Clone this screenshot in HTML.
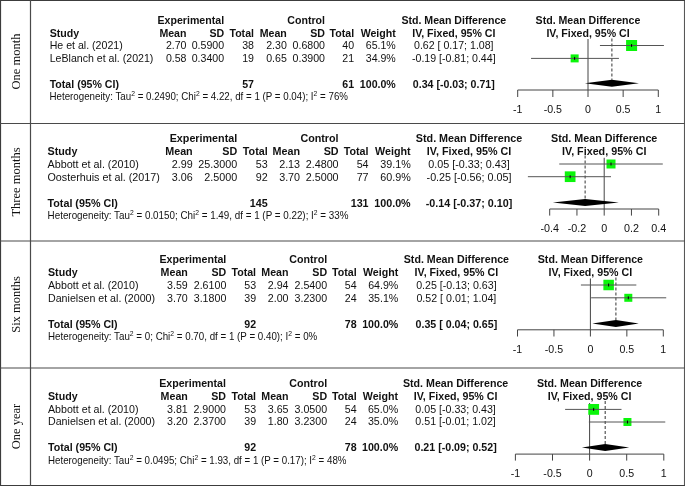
<!DOCTYPE html>
<html><head><meta charset="utf-8"><style>
html,body{margin:0;padding:0;background:#fff;width:685px;height:486px;overflow:hidden}
svg{display:block;will-change:transform}
text{font-family:"Liberation Sans",sans-serif;fill:#111}
text.lab{font-family:"Liberation Serif",serif;font-size:12.5px;fill:#111}
.ax{stroke:#444;stroke-width:1}
.ci{stroke:#555;stroke-width:1}
.pt{stroke:#000;stroke-width:1}
.dash{stroke:#333;stroke-width:1;stroke-dasharray:3 2}
</style></head><body>
<svg width="685" height="486" viewBox="0 0 685 486">
<rect width="685" height="486" fill="#fff"/>
<g style="font-size:10.6px">
<text class="lab" transform="translate(20.4 61.5) rotate(-90)" text-anchor="middle">One month</text>
<text x="224.10" y="24.00" text-anchor="end" font-weight="bold">Experimental</text>
<text x="325.00" y="24.00" text-anchor="end" font-weight="bold">Control</text>
<text x="453.80" y="24.00" text-anchor="middle" font-weight="bold">Std. Mean Difference</text>
<text x="588.00" y="24.00" text-anchor="middle" font-weight="bold">Std. Mean Difference</text>
<text x="49.70" y="36.50" font-weight="bold">Study</text>
<text x="186.50" y="36.50" text-anchor="end" font-weight="bold">Mean</text>
<text x="224.10" y="36.50" text-anchor="end" font-weight="bold">SD</text>
<text x="254.00" y="36.50" text-anchor="end" font-weight="bold">Total</text>
<text x="286.80" y="36.50" text-anchor="end" font-weight="bold">Mean</text>
<text x="325.00" y="36.50" text-anchor="end" font-weight="bold">SD</text>
<text x="354.10" y="36.50" text-anchor="end" font-weight="bold">Total</text>
<text x="395.80" y="36.50" text-anchor="end" font-weight="bold">Weight</text>
<text x="453.80" y="36.50" text-anchor="middle" font-weight="bold">IV, Fixed, 95% CI</text>
<text x="588.00" y="36.50" text-anchor="middle" font-weight="bold">IV, Fixed, 95% CI</text>
<text x="49.70" y="49.00">He et al. (2021)</text>
<text x="186.50" y="49.00" text-anchor="end">2.70</text>
<text x="224.10" y="49.00" text-anchor="end">0.5900</text>
<text x="254.00" y="49.00" text-anchor="end">38</text>
<text x="286.80" y="49.00" text-anchor="end">2.30</text>
<text x="325.00" y="49.00" text-anchor="end">0.6800</text>
<text x="354.10" y="49.00" text-anchor="end">40</text>
<text x="395.80" y="49.00" text-anchor="end">65.1%</text>
<text x="453.80" y="49.00" text-anchor="middle">0.62&#160;[&#160;0.17;&#160;1.08]</text>
<text x="49.70" y="61.90">LeBlanch et al. (2021)</text>
<text x="186.50" y="61.90" text-anchor="end">0.58</text>
<text x="224.10" y="61.90" text-anchor="end">0.3400</text>
<text x="254.00" y="61.90" text-anchor="end">19</text>
<text x="286.80" y="61.90" text-anchor="end">0.65</text>
<text x="325.00" y="61.90" text-anchor="end">0.3900</text>
<text x="354.10" y="61.90" text-anchor="end">21</text>
<text x="395.80" y="61.90" text-anchor="end">34.9%</text>
<text x="453.80" y="61.90" text-anchor="middle">-0.19&#160;[-0.81;&#160;0.44]</text>
<text x="49.70" y="87.90" font-weight="bold">Total (95% CI)</text>
<text x="254.00" y="87.90" text-anchor="end" font-weight="bold">57</text>
<text x="354.10" y="87.90" text-anchor="end" font-weight="bold">61</text>
<text x="395.80" y="87.90" text-anchor="end" font-weight="bold">100.0%</text>
<text x="453.80" y="87.90" text-anchor="middle" font-weight="bold">0.34&#160;[-0.03;&#160;0.71]</text>
<text class="het" style="font-size:10.1px" x="49.5" y="100.2" textLength="298.5" lengthAdjust="spacingAndGlyphs">Heterogeneity: Tau<tspan dy="-4.2" font-size="7">2</tspan><tspan dy="4.2"> = 0.2490; Chi</tspan><tspan dy="-4.2" font-size="7">2</tspan><tspan dy="4.2"> = 4.22, df = 1 (P = 0.04); I</tspan><tspan dy="-4.2" font-size="7">2</tspan><tspan dy="4.2"> = 76%</tspan></text>
<line x1="517.70" y1="90" x2="658.30" y2="90" class="ax"/>
<line x1="517.70" y1="90" x2="517.70" y2="97" class="ax"/>
<text x="517.70" y="112.70" text-anchor="middle" style="font-size:10.6px">-1</text>
<line x1="552.85" y1="90" x2="552.85" y2="97" class="ax"/>
<text x="552.85" y="112.70" text-anchor="middle" style="font-size:10.6px">-0.5</text>
<line x1="588.00" y1="90" x2="588.00" y2="97" class="ax"/>
<text x="588.00" y="112.70" text-anchor="middle" style="font-size:10.6px">0</text>
<line x1="623.15" y1="90" x2="623.15" y2="97" class="ax"/>
<text x="623.15" y="112.70" text-anchor="middle" style="font-size:10.6px">0.5</text>
<line x1="658.30" y1="90" x2="658.30" y2="97" class="ax"/>
<text x="658.30" y="112.70" text-anchor="middle" style="font-size:10.6px">1</text>
<line x1="588.00" y1="39" x2="588.00" y2="90" class="ax"/>
<line x1="611.90" y1="38.5" x2="611.90" y2="79.8" class="dash"/>
<rect x="626.09" y="40.00" width="11" height="11" fill="#0af50a"/>
<line x1="599.95" y1="45.5" x2="663.92" y2="45.5" class="ci"/>
<line x1="631.59" y1="44.0" x2="631.59" y2="47.0" class="pt"/>
<rect x="570.64" y="54.40" width="8" height="8" fill="#0af50a"/>
<line x1="531.06" y1="58.4" x2="618.93" y2="58.4" class="ci"/>
<line x1="574.64" y1="56.9" x2="574.64" y2="59.9" class="pt"/>
<polygon points="584.89,83.3 611.90,79.8 638.91,83.3 611.90,86.8" fill="#000"/>
</g>
<g style="font-size:10.75px">
<text class="lab" transform="translate(20.4 182.0) rotate(-90)" text-anchor="middle">Three months</text>
<text x="237.20" y="142.00" text-anchor="end" font-weight="bold">Experimental</text>
<text x="338.60" y="142.00" text-anchor="end" font-weight="bold">Control</text>
<text x="469.00" y="142.00" text-anchor="middle" font-weight="bold">Std. Mean Difference</text>
<text x="604.20" y="142.00" text-anchor="middle" font-weight="bold">Std. Mean Difference</text>
<text x="47.50" y="154.50" font-weight="bold">Study</text>
<text x="192.70" y="154.50" text-anchor="end" font-weight="bold">Mean</text>
<text x="237.20" y="154.50" text-anchor="end" font-weight="bold">SD</text>
<text x="267.70" y="154.50" text-anchor="end" font-weight="bold">Total</text>
<text x="300.10" y="154.50" text-anchor="end" font-weight="bold">Mean</text>
<text x="338.60" y="154.50" text-anchor="end" font-weight="bold">SD</text>
<text x="368.60" y="154.50" text-anchor="end" font-weight="bold">Total</text>
<text x="410.70" y="154.50" text-anchor="end" font-weight="bold">Weight</text>
<text x="469.00" y="154.50" text-anchor="middle" font-weight="bold">IV, Fixed, 95% CI</text>
<text x="604.20" y="154.50" text-anchor="middle" font-weight="bold">IV, Fixed, 95% CI</text>
<text x="47.50" y="167.90">Abbott et al. (2010)</text>
<text x="192.70" y="167.90" text-anchor="end">2.99</text>
<text x="237.20" y="167.90" text-anchor="end">25.3000</text>
<text x="267.70" y="167.90" text-anchor="end">53</text>
<text x="300.10" y="167.90" text-anchor="end">2.13</text>
<text x="338.60" y="167.90" text-anchor="end">2.4800</text>
<text x="368.60" y="167.90" text-anchor="end">54</text>
<text x="410.70" y="167.90" text-anchor="end">39.1%</text>
<text x="469.00" y="167.90" text-anchor="middle">0.05&#160;[-0.33;&#160;0.43]</text>
<text x="47.50" y="180.70">Oosterhuis et al. (2017)</text>
<text x="192.70" y="180.70" text-anchor="end">3.06</text>
<text x="237.20" y="180.70" text-anchor="end">2.5000</text>
<text x="267.70" y="180.70" text-anchor="end">92</text>
<text x="300.10" y="180.70" text-anchor="end">3.70</text>
<text x="338.60" y="180.70" text-anchor="end">2.5000</text>
<text x="368.60" y="180.70" text-anchor="end">77</text>
<text x="410.70" y="180.70" text-anchor="end">60.9%</text>
<text x="469.00" y="180.70" text-anchor="middle">-0.25&#160;[-0.56;&#160;0.05]</text>
<text x="47.50" y="206.60" font-weight="bold">Total (95% CI)</text>
<text x="267.70" y="206.60" text-anchor="end" font-weight="bold">145</text>
<text x="368.60" y="206.60" text-anchor="end" font-weight="bold">131</text>
<text x="410.70" y="206.60" text-anchor="end" font-weight="bold">100.0%</text>
<text x="469.00" y="206.60" text-anchor="middle" font-weight="bold">-0.14&#160;[-0.37;&#160;0.10]</text>
<text class="het" style="font-size:10.2px" x="47.6" y="219" textLength="300.9" lengthAdjust="spacingAndGlyphs">Heterogeneity: Tau<tspan dy="-4.2" font-size="7">2</tspan><tspan dy="4.2"> = 0.0150; Chi</tspan><tspan dy="-4.2" font-size="7">2</tspan><tspan dy="4.2"> = 1.49, df = 1 (P = 0.22); I</tspan><tspan dy="-4.2" font-size="7">2</tspan><tspan dy="4.2"> = 33%</tspan></text>
<line x1="549.70" y1="209" x2="658.70" y2="209" class="ax"/>
<line x1="549.70" y1="209" x2="549.70" y2="215.6" class="ax"/>
<text x="549.70" y="232.20" text-anchor="middle" style="font-size:10.75px">-0.4</text>
<line x1="576.95" y1="209" x2="576.95" y2="215.6" class="ax"/>
<text x="576.95" y="232.20" text-anchor="middle" style="font-size:10.75px">-0.2</text>
<line x1="604.20" y1="209" x2="604.20" y2="215.6" class="ax"/>
<text x="604.20" y="232.20" text-anchor="middle" style="font-size:10.75px">0</text>
<line x1="631.45" y1="209" x2="631.45" y2="215.6" class="ax"/>
<text x="631.45" y="232.20" text-anchor="middle" style="font-size:10.75px">0.2</text>
<line x1="658.70" y1="209" x2="658.70" y2="215.6" class="ax"/>
<text x="658.70" y="232.20" text-anchor="middle" style="font-size:10.75px">0.4</text>
<line x1="604.20" y1="157.8" x2="604.20" y2="209" class="ax"/>
<line x1="585.12" y1="155.5" x2="585.12" y2="198.9" class="dash"/>
<rect x="606.51" y="159.50" width="9" height="9" fill="#0af50a"/>
<line x1="559.24" y1="164" x2="662.79" y2="164" class="ci"/>
<line x1="611.01" y1="162.5" x2="611.01" y2="165.5" class="pt"/>
<rect x="564.79" y="171.35" width="10.7" height="10.7" fill="#0af50a"/>
<line x1="527.90" y1="176.7" x2="611.01" y2="176.7" class="ci"/>
<line x1="570.14" y1="175.2" x2="570.14" y2="178.2" class="pt"/>
<polygon points="552.79,202.4 585.12,198.9 618.83,202.4 585.12,205.9" fill="#000"/>
</g>
<g style="font-size:10.65px">
<text class="lab" transform="translate(20.4 304.5) rotate(-90)" text-anchor="middle">Six months</text>
<text x="226.30" y="263.40" text-anchor="end" font-weight="bold">Experimental</text>
<text x="327.10" y="263.40" text-anchor="end" font-weight="bold">Control</text>
<text x="456.40" y="263.40" text-anchor="middle" font-weight="bold">Std. Mean Difference</text>
<text x="590.40" y="263.40" text-anchor="middle" font-weight="bold">Std. Mean Difference</text>
<text x="48.00" y="275.90" font-weight="bold">Study</text>
<text x="187.80" y="275.90" text-anchor="end" font-weight="bold">Mean</text>
<text x="226.30" y="275.90" text-anchor="end" font-weight="bold">SD</text>
<text x="256.10" y="275.90" text-anchor="end" font-weight="bold">Total</text>
<text x="288.50" y="275.90" text-anchor="end" font-weight="bold">Mean</text>
<text x="327.10" y="275.90" text-anchor="end" font-weight="bold">SD</text>
<text x="356.70" y="275.90" text-anchor="end" font-weight="bold">Total</text>
<text x="398.30" y="275.90" text-anchor="end" font-weight="bold">Weight</text>
<text x="456.40" y="275.90" text-anchor="middle" font-weight="bold">IV, Fixed, 95% CI</text>
<text x="590.40" y="275.90" text-anchor="middle" font-weight="bold">IV, Fixed, 95% CI</text>
<text x="48.00" y="288.50">Abbott et al. (2010)</text>
<text x="187.80" y="288.50" text-anchor="end">3.59</text>
<text x="226.30" y="288.50" text-anchor="end">2.6100</text>
<text x="256.10" y="288.50" text-anchor="end">53</text>
<text x="288.50" y="288.50" text-anchor="end">2.94</text>
<text x="327.10" y="288.50" text-anchor="end">2.5400</text>
<text x="356.70" y="288.50" text-anchor="end">54</text>
<text x="398.30" y="288.50" text-anchor="end">64.9%</text>
<text x="456.40" y="288.50" text-anchor="middle">0.25&#160;[-0.13;&#160;0.63]</text>
<text x="48.00" y="301.70">Danielsen et al. (2000)</text>
<text x="187.80" y="301.70" text-anchor="end">3.70</text>
<text x="226.30" y="301.70" text-anchor="end">3.1800</text>
<text x="256.10" y="301.70" text-anchor="end">39</text>
<text x="288.50" y="301.70" text-anchor="end">2.00</text>
<text x="327.10" y="301.70" text-anchor="end">3.2300</text>
<text x="356.70" y="301.70" text-anchor="end">24</text>
<text x="398.30" y="301.70" text-anchor="end">35.1%</text>
<text x="456.40" y="301.70" text-anchor="middle">0.52&#160;[&#160;0.01;&#160;1.04]</text>
<text x="48.00" y="327.80" font-weight="bold">Total (95% CI)</text>
<text x="256.10" y="327.80" text-anchor="end" font-weight="bold">92</text>
<text x="356.70" y="327.80" text-anchor="end" font-weight="bold">78</text>
<text x="398.30" y="327.80" text-anchor="end" font-weight="bold">100.0%</text>
<text x="456.40" y="327.80" text-anchor="middle" font-weight="bold">0.35&#160;[&#160;0.04;&#160;0.65]</text>
<text class="het" style="font-size:10.1px" x="48.0" y="340" textLength="269.3" lengthAdjust="spacingAndGlyphs">Heterogeneity: Tau<tspan dy="-4.2" font-size="7">2</tspan><tspan dy="4.2"> = 0; Chi</tspan><tspan dy="-4.2" font-size="7">2</tspan><tspan dy="4.2"> = 0.70, df = 1 (P = 0.40); I</tspan><tspan dy="-4.2" font-size="7">2</tspan><tspan dy="4.2"> = 0%</tspan></text>
<line x1="517.50" y1="329.8" x2="663.30" y2="329.8" class="ax"/>
<line x1="517.50" y1="329.8" x2="517.50" y2="336.5" class="ax"/>
<text x="517.50" y="353.00" text-anchor="middle" style="font-size:10.6px">-1</text>
<line x1="553.95" y1="329.8" x2="553.95" y2="336.5" class="ax"/>
<text x="553.95" y="353.00" text-anchor="middle" style="font-size:10.6px">-0.5</text>
<line x1="590.40" y1="329.8" x2="590.40" y2="336.5" class="ax"/>
<text x="590.40" y="353.00" text-anchor="middle" style="font-size:10.6px">0</text>
<line x1="626.85" y1="329.8" x2="626.85" y2="336.5" class="ax"/>
<text x="626.85" y="353.00" text-anchor="middle" style="font-size:10.6px">0.5</text>
<line x1="663.30" y1="329.8" x2="663.30" y2="336.5" class="ax"/>
<text x="663.30" y="353.00" text-anchor="middle" style="font-size:10.6px">1</text>
<line x1="590.40" y1="278.5" x2="590.40" y2="329.8" class="ax"/>
<line x1="615.91" y1="277.5" x2="615.91" y2="320.1" class="dash"/>
<rect x="603.38" y="279.75" width="10.5" height="10.5" fill="#0af50a"/>
<line x1="580.92" y1="285" x2="636.33" y2="285" class="ci"/>
<line x1="608.62" y1="283.5" x2="608.62" y2="286.5" class="pt"/>
<rect x="624.31" y="293.80" width="8" height="8" fill="#0af50a"/>
<line x1="591.13" y1="297.8" x2="666.22" y2="297.8" class="ci"/>
<line x1="628.31" y1="296.3" x2="628.31" y2="299.3" class="pt"/>
<polygon points="592.32,323.6 615.91,320.1 638.78,323.6 615.91,327.1" fill="#000"/>
</g>
<g style="font-size:10.65px">
<text class="lab" transform="translate(20.4 426.5) rotate(-90)" text-anchor="middle">One year</text>
<text x="226.00" y="387.40" text-anchor="end" font-weight="bold">Experimental</text>
<text x="327.10" y="387.40" text-anchor="end" font-weight="bold">Control</text>
<text x="455.60" y="387.40" text-anchor="middle" font-weight="bold">Std. Mean Difference</text>
<text x="589.60" y="387.40" text-anchor="middle" font-weight="bold">Std. Mean Difference</text>
<text x="48.00" y="399.80" font-weight="bold">Study</text>
<text x="187.80" y="399.80" text-anchor="end" font-weight="bold">Mean</text>
<text x="226.00" y="399.80" text-anchor="end" font-weight="bold">SD</text>
<text x="256.10" y="399.80" text-anchor="end" font-weight="bold">Total</text>
<text x="288.50" y="399.80" text-anchor="end" font-weight="bold">Mean</text>
<text x="327.10" y="399.80" text-anchor="end" font-weight="bold">SD</text>
<text x="356.70" y="399.80" text-anchor="end" font-weight="bold">Total</text>
<text x="398.10" y="399.80" text-anchor="end" font-weight="bold">Weight</text>
<text x="455.60" y="399.80" text-anchor="middle" font-weight="bold">IV, Fixed, 95% CI</text>
<text x="589.60" y="399.80" text-anchor="middle" font-weight="bold">IV, Fixed, 95% CI</text>
<text x="48.00" y="412.60">Abbott et al. (2010)</text>
<text x="187.80" y="412.60" text-anchor="end">3.81</text>
<text x="226.00" y="412.60" text-anchor="end">2.9000</text>
<text x="256.10" y="412.60" text-anchor="end">53</text>
<text x="288.50" y="412.60" text-anchor="end">3.65</text>
<text x="327.10" y="412.60" text-anchor="end">3.0500</text>
<text x="356.70" y="412.60" text-anchor="end">54</text>
<text x="398.10" y="412.60" text-anchor="end">65.0%</text>
<text x="455.60" y="412.60" text-anchor="middle">0.05&#160;[-0.33;&#160;0.43]</text>
<text x="48.00" y="425.20">Danielsen et al. (2000)</text>
<text x="187.80" y="425.20" text-anchor="end">3.20</text>
<text x="226.00" y="425.20" text-anchor="end">2.3700</text>
<text x="256.10" y="425.20" text-anchor="end">39</text>
<text x="288.50" y="425.20" text-anchor="end">1.80</text>
<text x="327.10" y="425.20" text-anchor="end">3.2300</text>
<text x="356.70" y="425.20" text-anchor="end">24</text>
<text x="398.10" y="425.20" text-anchor="end">35.0%</text>
<text x="455.60" y="425.20" text-anchor="middle">0.51&#160;[-0.01;&#160;1.02]</text>
<text x="48.00" y="451.40" font-weight="bold">Total (95% CI)</text>
<text x="256.10" y="451.40" text-anchor="end" font-weight="bold">92</text>
<text x="356.70" y="451.40" text-anchor="end" font-weight="bold">78</text>
<text x="398.10" y="451.40" text-anchor="end" font-weight="bold">100.0%</text>
<text x="455.60" y="451.40" text-anchor="middle" font-weight="bold">0.21&#160;[-0.09;&#160;0.52]</text>
<text class="het" style="font-size:10.1px" x="48.0" y="464" textLength="298.5" lengthAdjust="spacingAndGlyphs">Heterogeneity: Tau<tspan dy="-4.2" font-size="7">2</tspan><tspan dy="4.2"> = 0.0495; Chi</tspan><tspan dy="-4.2" font-size="7">2</tspan><tspan dy="4.2"> = 1.93, df = 1 (P = 0.17); I</tspan><tspan dy="-4.2" font-size="7">2</tspan><tspan dy="4.2"> = 48%</tspan></text>
<line x1="515.40" y1="454.1" x2="663.80" y2="454.1" class="ax"/>
<line x1="515.40" y1="454.1" x2="515.40" y2="460.6" class="ax"/>
<text x="515.40" y="477.20" text-anchor="middle" style="font-size:10.6px">-1</text>
<line x1="552.50" y1="454.1" x2="552.50" y2="460.6" class="ax"/>
<text x="552.50" y="477.20" text-anchor="middle" style="font-size:10.6px">-0.5</text>
<line x1="589.60" y1="454.1" x2="589.60" y2="460.6" class="ax"/>
<text x="589.60" y="477.20" text-anchor="middle" style="font-size:10.6px">0</text>
<line x1="626.70" y1="454.1" x2="626.70" y2="460.6" class="ax"/>
<text x="626.70" y="477.20" text-anchor="middle" style="font-size:10.6px">0.5</text>
<line x1="663.80" y1="454.1" x2="663.80" y2="460.6" class="ax"/>
<text x="663.80" y="477.20" text-anchor="middle" style="font-size:10.6px">1</text>
<line x1="589.60" y1="403" x2="589.60" y2="454.1" class="ax"/>
<line x1="605.18" y1="401" x2="605.18" y2="444.0" class="dash"/>
<rect x="588.28" y="404.00" width="10.8" height="10.8" fill="#0af50a"/>
<line x1="565.11" y1="409.4" x2="621.51" y2="409.4" class="ci"/>
<line x1="593.68" y1="407.9" x2="593.68" y2="410.9" class="pt"/>
<rect x="623.44" y="418.00" width="8" height="8" fill="#0af50a"/>
<line x1="588.86" y1="422" x2="665.28" y2="422" class="ci"/>
<line x1="627.44" y1="420.5" x2="627.44" y2="423.5" class="pt"/>
<polygon points="581.92,447.5 605.18,444.0 629.18,447.5 605.18,451.0" fill="#000"/>
</g>
<path d="M684.5 0V486" stroke="#575757" stroke-width="1.1"/>
<path d="M0.5 486V0.5H685M0 485.5H685" fill="none" stroke="#3c3c3c" stroke-width="1.2"/>
<line x1="30.5" y1="0" x2="30.5" y2="486" stroke="#4a4a4a" stroke-width="1.2"/>
<line x1="0" y1="123.5" x2="685" y2="123.5" stroke="#4a4a4a" stroke-width="1.2"/>
<line x1="0" y1="241" x2="685" y2="241" stroke="#4a4a4a" stroke-width="1.2"/>
<line x1="0" y1="368" x2="685" y2="368" stroke="#4a4a4a" stroke-width="1.2"/>
</svg>
</body></html>
